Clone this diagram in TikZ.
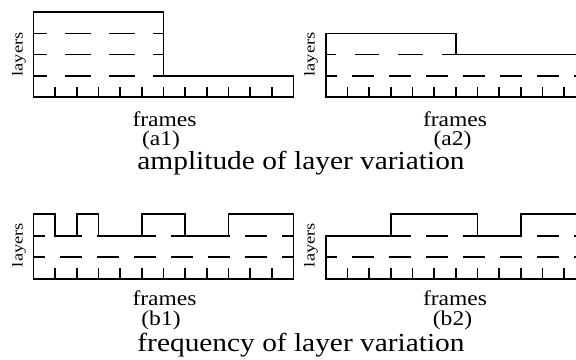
\documentclass[tikz,border=0pt]{standalone}
\usepackage{fontspec}
\setmainfont{Liberation Serif}
\begin{document}
\begin{tikzpicture}[x=1pt,y=-1pt,line width=1.6pt,
  prof/.style={line join=miter},
  tk/.style={},
  dlong/.style={dash pattern=on 26pt off 18pt,dash phase=13pt},
  dlongb/.style={dash pattern=on 24.5pt off 19pt,dash phase=14.5pt},
  dshort/.style={dash pattern=on 21.5pt off 15.5pt,dash phase=10.5pt},
  lab/.style={inner sep=0pt,anchor=base,font=\fontsize{21}{25}\selectfont},
  captext/.style={inner sep=0pt,anchor=base,font=\fontsize{26}{30}\selectfont},
  lay/.style={inner sep=0pt,rotate=90,font=\fontsize{15}{18}\selectfont}]
\def\dx{21.667}
\useasboundingbox (0,0) rectangle (576,359);
\clip (0,0) rectangle (576,359);
% ---------- (a1) ----------
\foreach \y in {33.3,54.6,75.9} \draw[dlong] (33.5,\y) -- (163.5,\y);
\draw[prof] (33.5,12) -- (163.5,12) -- (163.5,75.9) -- (293.5,75.9) -- (293.5,97.2) -- (33.5,97.2) -- cycle;
\foreach \i in {1,...,11} \draw[tk] ({33.5+\i*\dx},97.2) -- ++(0,-10.2);
% ---------- (a2) ----------
\draw[dlongb] (325.7,33.3) -- (455.7,33.3);
\draw[dlongb] (325.7,54.6) -- (455.7,54.6);
\draw[dshort] (325.7,75.9) -- (585.7,75.9);
\draw[prof] (325.7,33.3) -- (455.7,33.3) -- (455.7,54.6) -- (585.7,54.6) -- (585.7,97.2) -- (325.7,97.2) -- cycle;
\foreach \i in {1,...,11} \draw[tk] ({325.7+\i*\dx},97.2) -- ++(0,-10.2);
% ---------- (b1) ----------
\foreach \y in {235.7,257} \draw[dshort] (33.5,\y) -- (293.5,\y);
\draw[prof] (33.5,279) -- (33.5,214) -- ({33.5+1*\dx},214) -- ({33.5+1*\dx},235.7)
  -- ({33.5+2*\dx},235.7) -- ({33.5+2*\dx},214) -- ({33.5+3*\dx},214) -- ({33.5+3*\dx},235.7)
  -- ({33.5+5*\dx},235.7) -- ({33.5+5*\dx},214) -- ({33.5+7*\dx},214) -- ({33.5+7*\dx},235.7)
  -- ({33.5+9*\dx},235.7) -- ({33.5+9*\dx},214) -- (293.5,214) -- (293.5,279) -- cycle;
\foreach \i in {1,...,11} \draw[tk] ({33.5+\i*\dx},279) -- ++(0,-11.5);
% ---------- (b2) ----------
\foreach \y in {235.7,257} \draw[dshort] (325.7,\y) -- (585.7,\y);
\draw[prof] (325.7,279) -- (325.7,235.7) -- ({325.7+3*\dx},235.7) -- ({325.7+3*\dx},214)
  -- ({325.7+7*\dx},214) -- ({325.7+7*\dx},235.7) -- ({325.7+9*\dx},235.7) -- ({325.7+9*\dx},214)
  -- (585.7,214) -- (585.7,279) -- cycle;
\foreach \i in {1,...,11} \draw[tk] ({325.7+\i*\dx},279) -- ++(0,-11.5);
% ---------- texts ----------
\node[lay] (la1) at (19,54.5) {\scalebox{1.23}[1]{layers}};
\node[lay] (la2) at (311,54.5) {\scalebox{1.23}[1]{layers}};
\node[lay] (lb1) at (19,245) {\scalebox{1.23}[1]{layers}};
\node[lay] (lb2) at (311,245) {\scalebox{1.23}[1]{layers}};
\node[lab] (fa1) at (164.5,126) {\scalebox{1.12}[1]{frames}};
\node[lab] (fa2) at (455,126) {\scalebox{1.12}[1]{frames}};
\node[lab] (ta1) at (161,145.3) {\scalebox{1.12}[1]{(a1)}};
\node[lab] (ta2) at (452.5,145.3) {\scalebox{1.12}[1]{(a2)}};
\node[captext] (ca) at (301,169.2) {\scalebox{1.13}[1]{amplitude of layer variation}};
\node[lab] (fb1) at (164.5,305) {\scalebox{1.12}[1]{frames}};
\node[lab] (fb2) at (455,305) {\scalebox{1.12}[1]{frames}};
\node[lab] (tb1) at (161,325.3) {\scalebox{1.12}[1]{(b1)}};
\node[lab] (tb2) at (452.5,325.3) {\scalebox{1.12}[1]{(b2)}};
\node[captext] (cb) at (301,351.2) {\scalebox{1.13}[1]{frequency of layer variation}};
\end{tikzpicture}
\end{document}
